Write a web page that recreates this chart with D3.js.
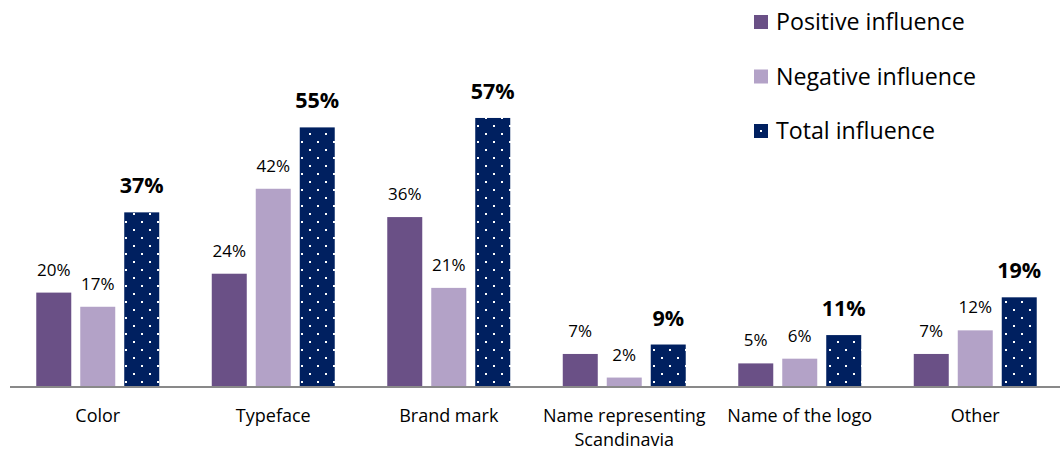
<!DOCTYPE html>
<html>
<head>
<meta charset="utf-8">
<script src="https://cdn.jsdelivr.net/npm/d3@7"></script>
<style>
  html, body { margin: 0; padding: 0; background: #fff; }
  svg { display: block; }
  text { font-family: "Open Sans", "Noto Sans", sans-serif; fill: #000; }
</style>
</head>
<body>
<svg id="chart" width="1060" height="451"></svg>
<script>
// Share of respondents by logo element
const categories = ["Color", "Typeface", "Brand mark", "Name representing\nScandinavia", "Name of the logo", "Other"];
const positive = [20, 24, 36, 7, 5, 7];
const negative = [17, 42, 21, 2, 6, 12];
const total    = [37, 55, 57, 9, 11, 19];
const seriesNames = ["Positive influence", "Negative influence", "Total influence"];

const svg = d3.select("#chart");
const W = 1060, H = 451;
const margin = { left: 10, right: -3, top: 0, bottom: 64 };
const baseY = 387;

const x0 = d3.scaleBand().domain(d3.range(categories.length))
  .range([margin.left, W - margin.right]).paddingInner(0).paddingOuter(0);
const x1 = d3.scaleBand().domain([0, 1, 2])
  .range([0, x0.bandwidth()]).paddingInner(0.2045).paddingOuter(0.597);
const y = d3.scaleLinear().domain([0, 60]).range([baseY, baseY - 60 * 4.72]);

// Dotted fill for the total series
const defs = svg.append("defs");
const pat = defs.append("pattern").attr("id", "dots")
  .attr("patternUnits", "userSpaceOnUse").attr("width", 16).attr("height", 16)
  .attr("x", 2).attr("y", 2);
pat.append("rect").attr("width", 16).attr("height", 16).attr("fill", "#002060");
pat.append("rect").attr("x", 3).attr("y", 3).attr("width", 2).attr("height", 2).attr("fill", "#fff");
pat.append("rect").attr("x", 11).attr("y", 11).attr("width", 2).attr("height", 2).attr("fill", "#fff");

const fills = ["#6a5086", "#b3a2c7", "url(#dots)"];
const series = [positive, negative, total];

const rows = [];
categories.forEach((c, i) => {
  series.forEach((s, j) => rows.push({ i, j, v: s[i] }));
});

const g = svg.append("g");
g.selectAll("rect.bar").data(rows).enter().append("rect")
  .attr("class", "bar")
  .attr("x", d => x0(d.i) + x1(d.j))
  .attr("width", x1.bandwidth())
  .attr("y", d => y(d.v))
  .attr("height", d => baseY - y(d.v))
  .attr("fill", d => fills[d.j]);

// Value labels
g.selectAll("text.val").data(rows).enter().append("text")
  .attr("class", "val")
  .attr("x", d => x0(d.i) + x1(d.j) + x1.bandwidth() / 2)
  .attr("y", d => y(d.v) - (d.j === 2 ? 19 : 17))
  .attr("text-anchor", "middle")
  .style("font-size", d => d.j === 2 ? "21.5px" : "17px")
  .style("font-weight", d => d.j === 2 ? "bold" : "normal")
  .text(d => d.v + "%");

// Category axis
const axis = d3.axisBottom(x0).tickSize(0).tickFormat("");
const ax = svg.append("g").attr("transform", `translate(0,${baseY})`).call(axis);
ax.select(".domain").attr("stroke", "#898989").attr("stroke-width", 2)
  .attr("d", `M${margin.left},0H${W}`);
ax.selectAll(".tick").each(function (d) {
  const t = d3.select(this).append("text")
    .attr("y", 35).attr("text-anchor", "middle").style("font-size", "18px").attr("fill", "#000");
  categories[d].split("\n").forEach((line, k) => {
    t.append("tspan").attr("x", 0).attr("dy", k === 0 ? 0 : 24).text(line);
  });
});

// Legend
const leg = svg.append("g").attr("transform", "translate(754,15)");
seriesNames.forEach((n, j) => {
  const r = leg.append("g").attr("transform", `translate(0,${j * 54.5})`);
  r.append("rect").attr("width", 14).attr("height", 14)
    .attr("fill", j === 2 ? "#002060" : fills[j]);
  if (j === 2) r.append("rect").attr("x", 6).attr("y", 6).attr("width", 2).attr("height", 2).attr("fill", "#fff");
  r.append("text").attr("x", 22).attr("y", 15).style("font-size", "23.2px").text(n);
});
</script>
</body>
</html>
